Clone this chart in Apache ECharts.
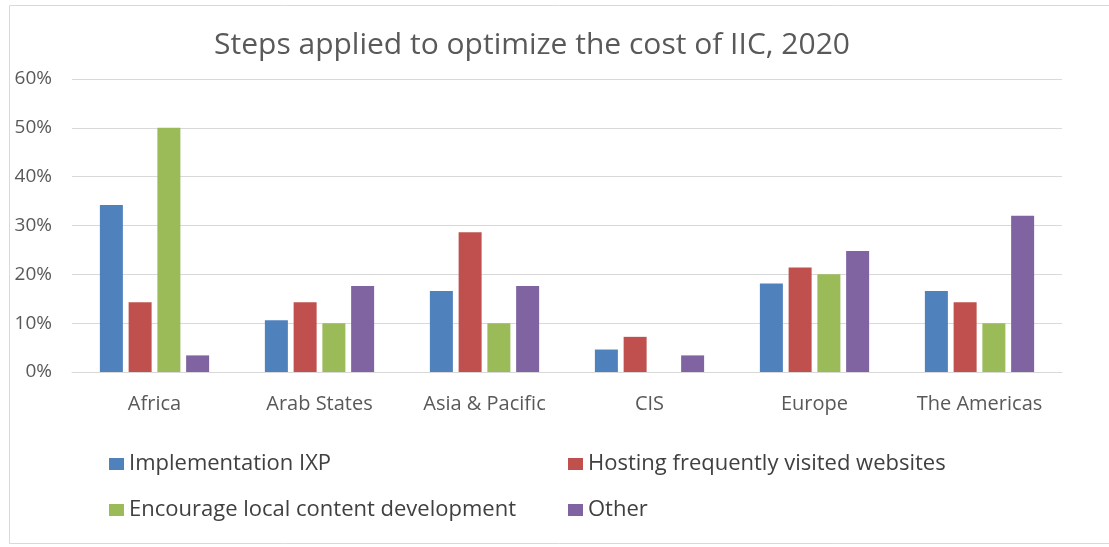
<!DOCTYPE html>
<html>
<head>
<meta charset="utf-8">
<script src="https://cdn.jsdelivr.net/npm/echarts@6/dist/echarts.min.js"></script>
<style>
  html, body { margin: 0; padding: 0; background: #fff; }
  #chart { width: 1109px; height: 547px; }
</style>
</head>
<body>
<div id="chart"></div>
<script>
// 数据
const categories = ['Africa', 'Arab States', 'Asia & Pacific', 'CIS', 'Europe', 'The Americas'];
const seriesNames = [
  'Implementation IXP',
  'Hosting frequently visited websites',
  'Encourage local content development',
  'Other'
];
const ixp = [34.2, 10.6, 16.6, 4.6, 18.1, 16.6];
const hosting = [14.3, 14.3, 28.6, 7.2, 21.4, 14.3];
const localContent = [50, 10, 10, 0, 20, 10];
const other = [3.4, 17.6, 17.6, 3.4, 24.8, 32];
const yTicks = [0, 10, 20, 30, 40, 50, 60];

const colors = ['#4F81BD', '#C0504D', '#9BBB59', '#8064A2'];
const font = '"Open Sans", sans-serif';

const chart = echarts.init(document.getElementById('chart'));

// 图例分两列摆放
const legendPos = [
  { left: 109, top: 453 },
  { left: 568, top: 453 },
  { left: 109, top: 499 },
  { left: 568, top: 499 }
];

const option = {
  backgroundColor: '#fff',
  animation: false,
  color: colors,
  title: {
    text: 'Steps applied to optimize the cost of IIC, 2020',
    left: 527,
    top: 25,
    textAlign: 'center',
    textStyle: {
      color: '#595959',
      fontFamily: font,
      fontWeight: 'normal',
      fontSize: 30
    }
  },
  graphic: [
    {
      type: 'rect',
      shape: { x: 9.5, y: 5.5, width: 1120, height: 538 },
      style: { fill: 'none', stroke: '#d9d9d9', lineWidth: 1 },
      silent: true
    }
  ],
  legend: seriesNames.map((name, i) => ({
    data: [name],
    left: legendPos[i].left,
    top: legendPos[i].top,
    padding: 0,
    itemWidth: 15,
    itemHeight: 12,
    itemGap: 6,
    icon: 'rect',
    textStyle: {
      color: '#404040',
      fontFamily: font,
      fontSize: 22
    }
  })),
  grid: {
    left: 72,
    right: 47,
    top: 79,
    bottom: 175
  },
  xAxis: {
    type: 'category',
    data: categories,
    axisLine: { lineStyle: { color: '#d9d9d9', width: 1 } },
    axisTick: { show: false },
    axisLabel: {
      color: '#595959',
      fontFamily: font,
      fontSize: 20,
      margin: 22
    }
  },
  yAxis: {
    type: 'value',
    min: yTicks[0],
    max: yTicks[yTicks.length - 1],
    interval: 10,
    axisLine: { show: false },
    axisTick: { show: false },
    axisLabel: {
      color: '#595959',
      fontFamily: font,
      fontSize: 19,
      margin: 20,
      formatter: '{value}%'
    },
    splitLine: { lineStyle: { color: '#d9d9d9', width: 1 } }
  },
  series: [ixp, hosting, localContent, other].map((data, i) => ({
    name: seriesNames[i],
    type: 'bar',
    data: data,
    barWidth: 23,
    barGap: '25%',
    itemStyle: { color: colors[i] }
  }))
};

chart.setOption(option);
</script>
</body>
</html>
